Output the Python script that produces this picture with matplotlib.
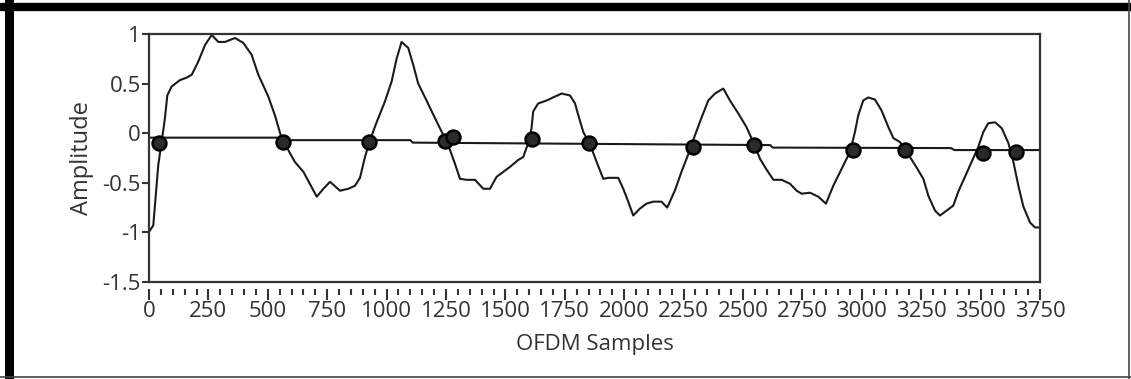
import matplotlib
matplotlib.use("Agg")
import numpy
from matplotlib import pyplot, ticker
from matplotlib.lines import Line2D

# OFDM signal trace
sig_x = [4, 18, 39, 53, 67, 77, 95, 130, 158, 180, 207, 236, 264, 292, 320, 362,
         397, 432, 460, 502, 530, 558, 586, 614, 650, 677, 706, 734, 762, 804, 839,
         867, 888, 909, 930, 958, 993, 1021, 1042, 1063, 1091, 1112, 1133, 1168,
         1204, 1239, 1267, 1288, 1309, 1337, 1372, 1407, 1435, 1463, 1491, 1519,
         1554, 1575, 1596, 1610, 1617, 1638, 1674, 1709, 1737, 1772, 1793, 1807,
         1828, 1856, 1884, 1912, 1933, 1975, 1996, 2017, 2038, 2066, 2094, 2122,
         2157, 2181, 2213, 2241, 2270, 2298, 2326, 2354, 2382, 2417, 2445, 2480,
         2515, 2543, 2572, 2600, 2628, 2663, 2698, 2726, 2747, 2782, 2817, 2849,
         2880, 2915, 2950, 2971, 2985, 3006, 3027, 3055, 3083, 3112, 3133, 3161,
         3189, 3224, 3259, 3280, 3308, 3329, 3357, 3385, 3406, 3434, 3462, 3490,
         3511, 3532, 3561, 3589, 3617, 3638, 3659, 3680, 3708, 3729, 3750]
sig_y = [-0.98, -0.93, -0.32, -0.09, 0.15, 0.38, 0.47, 0.535, 0.56, 0.59, 0.72,
         0.89, 0.99, 0.92, 0.92, 0.96, 0.91, 0.79, 0.59, 0.37, 0.18, -0.05, -0.17,
         -0.29, -0.39, -0.51, -0.64, -0.56, -0.49, -0.58, -0.56, -0.53, -0.45,
         -0.24, -0.07, 0.11, 0.32, 0.52, 0.75, 0.92, 0.86, 0.69, 0.50, 0.33, 0.15,
         -0.02, -0.17, -0.31, -0.46, -0.47, -0.47, -0.56, -0.56, -0.44, -0.39,
         -0.34, -0.27, -0.24, -0.10, 0.05, 0.22, 0.30, 0.33, 0.37, 0.40, 0.38,
         0.30, 0.18, 0.01, -0.11, -0.29, -0.46, -0.45, -0.45, -0.56, -0.69, -0.83,
         -0.76, -0.71, -0.69, -0.69, -0.75, -0.58, -0.39, -0.21, -0.02, 0.16, 0.33,
         0.40, 0.45, 0.33, 0.20, 0.06, -0.09, -0.26, -0.37, -0.47, -0.47, -0.51,
         -0.58, -0.61, -0.60, -0.64, -0.71, -0.53, -0.36, -0.19, 0.01, 0.18, 0.33,
         0.36, 0.34, 0.23, 0.06, -0.05, -0.09, -0.19, -0.32, -0.46, -0.63, -0.78,
         -0.83, -0.78, -0.73, -0.59, -0.44, -0.29, -0.14, 0.01, 0.10, 0.11, 0.05,
         -0.10, -0.29, -0.53, -0.74, -0.90, -0.95, -0.95]

# slowly drifting reference line
ref_x = [0, 540, 555, 1100, 1110, 2615, 2625, 3375, 3390, 3750]
ref_y = [-0.045, -0.045, -0.07, -0.07, -0.095, -0.12, -0.145, -0.15, -0.17, -0.17]

# crossing markers
mark_x = [40, 565, 925, 1246, 1280, 1610, 1850, 2290, 2545, 2965, 3180, 3510, 3650]
mark_y = [-0.10, -0.09, -0.09, -0.08, -0.04, -0.06, -0.10, -0.14, -0.12, -0.17,
          -0.17, -0.20, -0.19]

y_ticks = [1, 0.5, 0, -0.5, -1, -1.5]
y_labels = ["1", "0.5", "0", "-0.5", "-1", "-1.5"]
x_ticks = list(range(0, 3751, 250))

pyplot.rcParams["font.family"] = ["Open Sans", "DejaVu Sans"]

fig = pyplot.figure(figsize=(11.31, 3.79), dpi=100)
ax = fig.add_axes([149 / 1131, 1 - 282 / 379, 891 / 1131, 248 / 379])

ax.plot(sig_x, sig_y, color="#1a1a1a", lw=1.5)
ax.plot(ref_x, ref_y, color="#1a1a1a", lw=1.5)
ax.plot(mark_x, mark_y, "o", ls="none", ms=10, mfc="#2a2a2a", mec="black", mew=1.8)

ax.set_xlim(0, 3750)
ax.set_ylim(-1.5, 1)
ax.set_yticks(y_ticks)
ax.set_yticklabels(y_labels)
ax.set_xticks(x_ticks)
ax.xaxis.set_minor_locator(ticker.MultipleLocator(50))

for s in ax.spines.values():
    s.set_color("#333333")
    s.set_linewidth(1.6)
ax.spines["bottom"].set_position(("outward", 5))
ax.spines["bottom"].set_linewidth(0)
ax.plot([0, 1], [0, 0], transform=ax.transAxes, color="#333333", lw=1.6, clip_on=False)

ax.tick_params(axis="y", direction="out", length=5, width=1.5, pad=1,
               labelsize=16, colors="#333333")
ax.tick_params(axis="x", which="major", direction="out", length=8, width=1.5,
               pad=1, labelsize=16, colors="#333333")
ax.tick_params(axis="x", which="minor", direction="out", length=4, width=1.5,
               colors="#333333")

ax.set_xlabel("OFDM Samples", fontsize=16, color="#333333", labelpad=8)
ax.set_ylabel("Amplitude", fontsize=17, color="#333333", labelpad=6)

# outer frame: heavy top and left, thin right and bottom
fig.add_artist(Line2D([0, 1], [1 - 7 / 379, 1 - 7 / 379], transform=fig.transFigure,
                      color="black", lw=6))
fig.add_artist(Line2D([8.5 / 1131, 8.5 / 1131], [0, 1 - 3 / 379],
                      transform=fig.transFigure, color="black", lw=6.5))
fig.add_artist(Line2D([1129 / 1131, 1129 / 1131], [0, 1], transform=fig.transFigure,
                      color="#444444", lw=1.2))
fig.add_artist(Line2D([0, 1], [2 / 379, 2 / 379], transform=fig.transFigure,
                      color="#444444", lw=1.2))

fig.savefig("out.png", dpi=100)
